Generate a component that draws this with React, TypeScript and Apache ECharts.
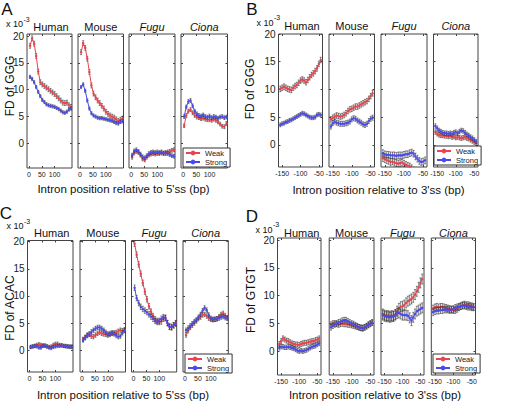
import React, { useEffect, useRef } from 'react';
import * as echarts from 'echarts';

const SPECIES = ['Human', 'Mouse', 'Fugu', 'Ciona'];
const POS5 = [4, 12, 20, 28, 36, 44, 52, 60, 68, 76, 84, 92, 100, 108, 116, 124, 132, 140, 148, 156, 164];
const POS3 = [-155, -150, -145, -140, -135, -130, -125, -120, -115, -110, -105, -100, -95, -90, -85, -80, -75, -70, -65, -60, -55, -50, -45];
const X5_TICKS = [0, 50, 100];
const X3_TICKS = [-150, -100, -50];
const Y_TICKS = [0, 5, 10, 15, 20];

// Panel A: GGG near 5'ss
const A_HUMAN_WEAK = [18.2, 19.6, 18.6, 16.3, 13.4, 11.4, 11.0, 10.7, 10.4, 10.1, 9.8, 9.5, 9.2, 8.8, 8.4, 8.0, 7.6, 7.5, 7.6, 7.1, 6.8];
const A_HUMAN_STRONG = [12.4, 12.0, 11.4, 10.5, 9.6, 8.8, 8.1, 7.7, 7.3, 7.1, 7.0, 6.9, 6.8, 6.6, 6.4, 6.1, 5.8, 5.7, 5.9, 6.3, 6.5];
const A_MOUSE_WEAK = [17.0, 18.7, 17.8, 15.8, 13.3, 10.8, 9.3, 8.6, 8.0, 7.5, 7.0, 6.5, 5.9, 5.5, 5.2, 5.0, 4.8, 4.5, 4.2, 4.4, 4.6];
const A_MOUSE_STRONG = [10.5, 11.0, 9.8, 8.0, 6.5, 5.6, 5.2, 5.0, 4.8, 4.7, 4.7, 4.6, 4.5, 4.4, 4.3, 4.2, 4.0, 3.8, 3.7, 4.0, 4.1];
const A_FUGU_WEAK = [-2.6, -1.8, -1.5, -1.7, -2.2, -2.9, -3.1, -2.6, -2.2, -2.0, -1.9, -2.0, -1.9, -1.9, -1.8, -1.9, -1.7, -1.6, -1.5, -1.3, -1.2];
const A_FUGU_STRONG = [-2.2, -1.4, -1.2, -1.5, -2.0, -2.5, -2.7, -2.3, -1.9, -1.7, -1.6, -1.7, -1.6, -1.7, -1.6, -1.8, -1.9, -1.9, -2.1, -2.3, -2.4];
const A_CIONA_WEAK = [3.3, 5.2, 6.0, 6.3, 5.7, 5.2, 4.9, 4.8, 4.6, 4.7, 4.5, 4.4, 4.4, 4.3, 4.5, 4.3, 4.0, 3.6, 3.2, 3.1, 3.7];
const A_CIONA_STRONG = [5.0, 6.8, 7.8, 8.0, 7.0, 6.0, 5.5, 5.2, 5.1, 5.3, 5.0, 4.9, 5.1, 4.8, 5.0, 4.9, 4.7, 4.9, 5.0, 4.8, 4.9];

// Panel B: GGG near 3'ss
const B_HUMAN_WEAK = [10.1, 10.3, 10.5, 10.3, 10.1, 10.0, 9.9, 10.3, 10.6, 10.8, 11.2, 11.6, 11.8, 11.6, 11.3, 11.7, 12.2, 12.6, 12.9, 13.3, 13.8, 14.6, 15.3];
const B_HUMAN_STRONG = [3.6, 3.8, 3.9, 4.1, 4.2, 4.4, 4.5, 4.7, 4.9, 5.1, 5.3, 5.5, 5.7, 5.6, 5.4, 5.2, 5.0, 4.9, 4.9, 5.0, 5.4, 5.5, 5.4];
const B_MOUSE_WEAK = [4.6, 4.9, 5.1, 5.3, 5.2, 5.1, 5.2, 5.4, 5.7, 6.1, 6.4, 6.5, 6.7, 6.9, 6.9, 7.1, 7.3, 7.5, 7.7, 7.9, 8.3, 8.8, 9.3];
const B_MOUSE_STRONG = [3.3, 3.9, 4.2, 4.0, 3.9, 3.8, 3.8, 3.8, 3.9, 4.0, 4.2, 4.6, 4.8, 4.7, 4.4, 4.2, 4.0, 3.7, 3.6, 3.8, 4.3, 4.7, 4.9];
const B_FUGU_WEAK = [-2.4, -2.6, -2.8, -2.9, -3.1, -3.0, -3.2, -3.3, -3.4, -3.3, -3.2, -3.4, -3.6, -3.8, -3.9, -4.2, -4.6, -5.0, -5.3, -5.5, -5.8, -6.0, -6.2];
const B_FUGU_STRONG = [-1.5, -1.7, -1.8, -1.8, -1.9, -1.9, -1.9, -2.0, -1.9, -1.9, -1.9, -1.8, -1.7, -1.7, -1.5, -1.4, -1.6, -2.1, -2.5, -2.9, -3.1, -3.0, -2.8];
const B_CIONA_WEAK = [2.3, 2.0, 1.8, 1.7, 1.7, 1.6, 1.6, 1.5, 1.6, 1.4, 1.5, 1.3, 1.4, 1.3, 1.2, 1.3, 1.4, 1.2, 1.1, 0.9, 0.7, 0.5, 0.3];
const B_CIONA_STRONG = [3.4, 3.0, 2.6, 2.4, 2.2, 2.1, 2.1, 2.0, 2.1, 2.0, 2.2, 2.3, 2.1, 2.4, 2.6, 2.5, 2.2, 1.9, 1.7, 1.4, 1.2, 0.9, 0.6];

// Panel C: ACAC near 5'ss
const C_HUMAN_WEAK = [0.6, 0.7, 0.8, 1.0, 1.1, 1.0, 0.9, 0.8, 0.7, 0.6, 0.7, 1.0, 1.2, 1.2, 1.0, 0.9, 0.8, 0.8, 0.7, 0.7, 0.7];
const C_HUMAN_STRONG = [0.6, 0.7, 0.8, 0.7, 0.5, 0.5, 0.8, 0.9, 0.7, 0.5, 0.4, 0.6, 0.7, 0.8, 0.8, 0.9, 0.8, 0.7, 0.7, 0.6, 0.6];
const C_MOUSE_WEAK = [2.0, 2.4, 2.8, 2.9, 2.6, 2.5, 2.8, 3.1, 3.3, 3.1, 3.0, 2.9, 2.8, 2.9, 3.1, 3.2, 3.3, 3.5, 3.7, 3.6, 3.8];
const C_MOUSE_STRONG = [1.9, 2.3, 2.7, 3.0, 3.4, 3.7, 4.0, 4.2, 4.2, 4.0, 3.7, 3.3, 3.0, 3.1, 3.2, 3.0, 2.7, 2.5, 2.6, 3.2, 3.6];
const C_FUGU_WEAK = [19.6, 17.6, 15.8, 14.1, 12.4, 10.8, 9.4, 8.1, 7.1, 6.3, 5.7, 5.4, 5.2, 5.3, 5.8, 5.9, 5.0, 4.3, 4.2, 4.6, 5.0];
const C_FUGU_STRONG = [11.5, 9.6, 8.7, 8.0, 7.6, 7.3, 7.0, 6.6, 6.2, 5.8, 5.4, 5.2, 5.4, 5.8, 6.1, 6.0, 5.0, 4.4, 4.3, 4.6, 4.9];
const C_CIONA_WEAK = [2.8, 3.6, 4.2, 4.6, 5.0, 5.4, 5.8, 6.1, 6.5, 6.6, 6.3, 5.9, 5.7, 5.6, 5.7, 5.8, 6.2, 6.6, 6.8, 6.4, 6.0];
const C_CIONA_STRONG = [3.7, 4.1, 4.5, 4.9, 5.3, 5.6, 6.1, 6.6, 7.3, 7.8, 7.4, 6.5, 5.9, 5.7, 5.7, 5.8, 5.9, 6.1, 6.2, 6.0, 5.9];

// Panel D: GTGT near 3'ss
const D_HUMAN_WEAK = [1.3, 1.8, 2.3, 2.1, 1.9, 1.8, 1.6, 1.4, 1.3, 1.2, 1.2, 1.1, 1.3, 1.4, 1.5, 1.5, 1.6, 1.7, 1.8, 1.8, 2.0, 2.1, 2.3];
const D_HUMAN_STRONG = [0.6, 0.8, 0.8, 0.7, 0.7, 0.8, 0.7, 0.6, 0.5, 0.3, 0.1, 0.0, 0.1, 0.0, 0.1, 0.2, 0.4, 0.6, 0.8, 0.9, 1.0, 1.2, 1.4];
const D_MOUSE_WEAK = [4.8, 5.0, 5.0, 4.9, 4.8, 4.9, 5.0, 4.9, 4.9, 4.8, 4.8, 4.7, 4.6, 4.5, 4.4, 4.3, 4.2, 4.2, 4.3, 4.5, 4.8, 5.0, 5.2];
const D_MOUSE_STRONG = [4.3, 4.6, 4.8, 5.0, 5.2, 5.3, 5.5, 5.6, 5.6, 5.4, 5.2, 5.0, 4.9, 4.7, 4.5, 4.3, 4.2, 4.1, 4.3, 4.5, 4.7, 4.9, 5.1];
const D_FUGU_WEAK = [6.7, 6.5, 6.4, 6.4, 6.3, 6.4, 6.3, 6.6, 7.2, 7.7, 8.0, 8.1, 8.3, 8.7, 9.0, 9.2, 9.4, 9.7, 10.2, 10.8, 11.5, 12.3, 13.0];
const D_FUGU_STRONG = [6.5, 6.3, 6.2, 6.2, 6.1, 6.2, 6.3, 6.5, 6.8, 6.9, 6.7, 6.5, 6.5, 6.5, 6.4, 6.0, 5.5, 6.1, 6.7, 7.2, 7.4, 7.6, 7.8];
const D_CIONA_WEAK = [7.7, 7.9, 8.0, 7.9, 8.0, 8.0, 7.9, 7.8, 7.7, 7.6, 7.5, 7.4, 7.4, 7.6, 7.9, 8.1, 8.3, 8.4, 8.3, 8.3, 8.2, 8.1, 8.0];
const D_CIONA_STRONG = [7.0, 7.2, 7.3, 7.3, 7.4, 7.4, 7.5, 7.5, 7.5, 7.4, 7.5, 7.6, 7.8, 7.9, 8.0, 8.1, 8.2, 8.2, 8.1, 8.0, 8.0, 7.9, 7.9];

// standard errors (x10^-3), one per species
const ERR_A_WEAK = [0.45, 0.45, 0.35, 0.35];
const ERR_A_STRONG = [0.3, 0.3, 0.35, 0.35];
const ERR_B_WEAK = [0.5, 0.5, 0.6, 0.4];
const ERR_B_STRONG = [0.35, 0.45, 0.6, 0.4];
const ERR_C_WEAK = [0.3, 0.4, 0.5, 0.4];
const ERR_C_STRONG = [0.3, 0.4, 0.5, 0.4];
const ERR_D_WEAK = [0.45, 0.5, 0.9, 0.6];
const ERR_D_STRONG = [0.4, 0.5, 0.9, 0.6];

const RED = '#e8444f';
const BLUE = '#4a4ae8';
const FONT = '"Liberation Sans", Arial, Helvetica, sans-serif';

const PANEL_DATA = [
  { pos: POS5, ticks: X5_TICKS, weak: [A_HUMAN_WEAK, A_MOUSE_WEAK, A_FUGU_WEAK, A_CIONA_WEAK], strong: [A_HUMAN_STRONG, A_MOUSE_STRONG, A_FUGU_STRONG, A_CIONA_STRONG], errW: ERR_A_WEAK, errS: ERR_A_STRONG },
  { pos: POS3, ticks: X3_TICKS, weak: [B_HUMAN_WEAK, B_MOUSE_WEAK, B_FUGU_WEAK, B_CIONA_WEAK], strong: [B_HUMAN_STRONG, B_MOUSE_STRONG, B_FUGU_STRONG, B_CIONA_STRONG], errW: ERR_B_WEAK, errS: ERR_B_STRONG },
  { pos: POS5, ticks: X5_TICKS, weak: [C_HUMAN_WEAK, C_MOUSE_WEAK, C_FUGU_WEAK, C_CIONA_WEAK], strong: [C_HUMAN_STRONG, C_MOUSE_STRONG, C_FUGU_STRONG, C_CIONA_STRONG], errW: ERR_C_WEAK, errS: ERR_C_STRONG },
  { pos: POS3, ticks: X3_TICKS, weak: [D_HUMAN_WEAK, D_MOUSE_WEAK, D_FUGU_WEAK, D_CIONA_WEAK], strong: [D_HUMAN_STRONG, D_MOUSE_STRONG, D_FUGU_STRONG, D_CIONA_STRONG], errW: ERR_D_WEAK, errS: ERR_D_STRONG },
];

const LAYOUT = [
  { letter: 'A', letterPos: [7, 9], top: 34, bottom: 168, boxes: [[27, 72], [78, 123.5], [129, 175], [181, 227.5]], ymin: -4.6, ymax: 20.4, xmin: -8, xmax: 168,
    x10: [23, 24.3], sup: [23.5, 19.5], titleY: 27.3, titleShift: 1.5, ylabel: 'FD of GGG', ylabelPos: [10, 86], xlabel: "Intron position relative to 5'ss (bp)", xlabelPos: [123.5, 188.5], legend: [183, 148] },
  { letter: 'B', letterPos: [252, 9], top: 34, bottom: 167, boxes: [[278.5, 322.5], [329, 374.5], [381, 427], [433.5, 478]], ymin: -4, ymax: 20, xmin: -160, xmax: -40,
    x10: [273.5, 23.3], sup: [274, 17], titleY: 26, titleShift: 1.5, ylabel: 'FD of GGG', ylabelPos: [250, 89], xlabel: "Intron position relative to 3'ss (bp)", xlabelPos: [378.5, 189.5], legend: [434, 146] },
  { letter: 'C', letterPos: [6, 213.5], top: 240.5, bottom: 372, boxes: [[27.5, 73], [80, 125.5], [131.5, 176.7], [183, 228.3]], ymin: -4, ymax: 20.2, xmin: -8, xmax: 168,
    x10: [23.5, 226], sup: [24, 221], titleY: 233.3, titleShift: 1.5, ylabel: 'FD of ACAC', ylabelPos: [10, 308], xlabel: "Intron position relative to 5'ss (bp)", xlabelPos: [123, 394.5], legend: [185, 354] },
  { letter: 'D', letterPos: [252, 216], top: 238, bottom: 375, boxes: [[277.5, 321], [329.2, 374], [381, 424], [431.3, 475.5]], ymin: -4.3, ymax: 20.4, xmin: -160, xmax: -40,
    x10: [272.5, 229.5], sup: [273, 224], titleY: 232.5, titleShift: 2.5, ylabel: 'FD of GTGT', ylabelPos: [251, 300], xlabel: "Intron position relative to 3'ss (bp)", xlabelPos: [375, 395], legend: [433, 354] },
];

function errRender(params: any, api: any) {
  const x = api.value(0);
  const y = api.value(1);
  const e = api.value(2);
  const p1 = api.coord([x, y + e]);
  const p2 = api.coord([x, y - e]);
  const st = { stroke: 'rgba(50,50,50,0.75)', lineWidth: 0.8 };
  return {
    type: 'group',
    children: [
      { type: 'line', shape: { x1: p1[0], y1: p1[1], x2: p2[0], y2: p2[1] }, style: st },
      { type: 'line', shape: { x1: p1[0] - 1, y1: p1[1], x2: p1[0] + 1, y2: p1[1] }, style: st },
      { type: 'line', shape: { x1: p2[0] - 1, y1: p2[1], x2: p2[0] + 1, y2: p2[1] }, style: st },
    ],
  };
}

function buildOption() {
  const grid: any[] = [];
  const xAxis: any[] = [];
  const yAxis: any[] = [];
  const series: any[] = [];
  const graphic: any[] = [];
  const tickStyle = { color: '#444', width: 1 };

  LAYOUT.forEach((p, pi) => {
    const d = PANEL_DATA[pi];
    p.boxes.forEach((b, si) => {
      const gi = grid.length;
      grid.push({ left: b[0], top: p.top, width: b[1] - b[0], height: p.bottom - p.top, show: true, borderColor: '#444', borderWidth: 1, backgroundColor: '#fff' });
      const xc = { type: 'value', gridIndex: gi, min: p.xmin, max: p.xmax, splitLine: { show: false }, axisLine: { show: false, onZero: false } };
      xAxis.push({ ...xc, position: 'bottom', axisTick: { show: true, inside: true, length: 2, lineStyle: tickStyle, customValues: d.ticks },
        axisLabel: { show: true, customValues: d.ticks, fontSize: 7, margin: 3, color: '#222', fontFamily: FONT } });
      xAxis.push({ ...xc, position: 'top', axisTick: { show: true, inside: true, length: 2, lineStyle: tickStyle, customValues: d.ticks }, axisLabel: { show: false } });
      const yc = { type: 'value', gridIndex: gi, min: p.ymin, max: p.ymax, splitLine: { show: false }, axisLine: { show: false, onZero: false } };
      yAxis.push({ ...yc, position: 'left', axisTick: { show: true, inside: true, length: 2, lineStyle: tickStyle, customValues: Y_TICKS },
        axisLabel: { show: si === 0, customValues: Y_TICKS, fontSize: 10, margin: 3, color: '#222', fontFamily: FONT } });
      yAxis.push({ ...yc, position: 'right', axisTick: { show: true, inside: true, length: 2, lineStyle: tickStyle, customValues: Y_TICKS }, axisLabel: { show: false } });
      const xi = gi * 2;
      const yi = gi * 2;
      const sets = [
        { name: 'Weak', vals: d.weak[si], err: d.errW[si], color: RED },
        { name: 'Strong', vals: d.strong[si], err: d.errS[si], color: BLUE },
      ];
      sets.forEach((s, k) => {
        series.push({ type: 'custom', name: s.name + ' error', xAxisIndex: xi, yAxisIndex: yi, clip: true, silent: true, z: 1 + k * 2,
          data: d.pos.map((x, j) => [x, s.vals[j], s.err]), renderItem: errRender });
        series.push({ type: 'line', name: s.name, xAxisIndex: xi, yAxisIndex: yi, clip: true, z: 2 + k * 2, silent: true,
          data: d.pos.map((x, j) => [x, s.vals[j]]), symbol: 'circle', symbolSize: 2.5, showSymbol: true,
          lineStyle: { width: 1, color: s.color }, itemStyle: { color: s.color } });
      });
      graphic.push({ type: 'text', x: (b[0] + b[1]) / 2 + (si === 0 ? p.titleShift : 0), y: p.titleY, z: 20,
        style: { text: SPECIES[si], fontSize: 11, fontFamily: FONT, fontStyle: si >= 2 ? 'italic' : 'normal', fill: '#111', align: 'center', verticalAlign: 'middle' } });
    });
    graphic.push({ type: 'text', x: p.letterPos[0], y: p.letterPos[1], z: 20,
      style: { text: p.letter, fontSize: 17, fontFamily: FONT, fill: '#111', align: 'center', verticalAlign: 'middle' } });
    graphic.push({ type: 'text', x: p.x10[0], y: p.x10[1], z: 20,
      style: { text: 'x 10', fontSize: 9, fontFamily: FONT, fill: '#111', align: 'right', verticalAlign: 'middle' } });
    graphic.push({ type: 'text', x: p.sup[0], y: p.sup[1], z: 20,
      style: { text: '-3', fontSize: 7, fontFamily: FONT, fill: '#111', align: 'left', verticalAlign: 'middle' } });
    graphic.push({ type: 'text', x: p.ylabelPos[0], y: p.ylabelPos[1], rotation: Math.PI / 2, z: 20,
      style: { text: p.ylabel, fontSize: 12, fontFamily: FONT, fill: '#111', align: 'center', verticalAlign: 'middle' } });
    graphic.push({ type: 'text', x: p.xlabelPos[0], y: p.xlabelPos[1], z: 20,
      style: { text: p.xlabel, fontSize: 11.5, fontFamily: FONT, fill: '#111', align: 'center', verticalAlign: 'middle' } });
  });

  const legend = LAYOUT.map((p) => ({
    data: ['Weak', 'Strong'], orient: 'vertical', left: p.legend[0], top: p.legend[1], itemWidth: 14, itemHeight: 6, itemGap: 1,
    padding: [1, 3, 1, 2], textStyle: { fontSize: 7.5, color: '#222', fontFamily: FONT }, backgroundColor: '#fff',
    borderColor: '#333', borderWidth: 1, selectedMode: false, z: 10,
  }));

  return { animation: false, backgroundColor: '#fff', textStyle: { fontFamily: FONT }, grid, xAxis, yAxis, series, legend, graphic: { elements: graphic } };
}

export default function App() {
  const ref = useRef<HTMLDivElement>(null);
  useEffect(() => {
    if (!ref.current) return;
    const chart = echarts.init(ref.current, undefined, { renderer: 'svg' });
    chart.setOption(buildOption() as any);
    return () => chart.dispose();
  }, []);
  return <div ref={ref} style={{ position: 'fixed', left: 0, top: 0, width: 517, height: 402, background: '#fff' }} />;
}
